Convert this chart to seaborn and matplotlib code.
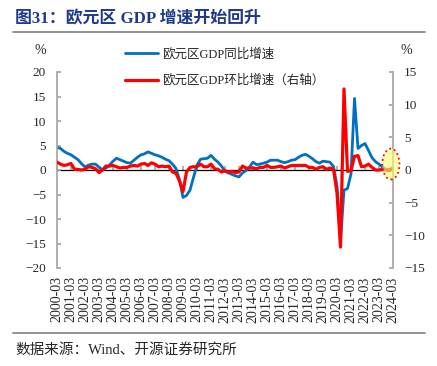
import pandas as pd
import matplotlib
matplotlib.use('Agg')
import matplotlib.pyplot as plt
import seaborn as sns
from matplotlib.lines import Line2D
from matplotlib.patches import Ellipse

# quarterly dates, 2000-03 .. 2024-03
quarters = [f'{y}-{m:02d}' for y in range(2000, 2025) for m in (3, 6, 9, 12)][:97]

# Euro area GDP YoY (%), left axis
yoy = [4.6, 4.4, 3.8, 3.4, 3.1, 2.6, 2.1, 1.3, 0.6, 1.0, 1.2, 1.2, 0.6, 0.0, 0.4, 1.0,
       1.8, 2.4, 2.1, 1.8, 1.5, 1.4, 2.0, 2.6, 3.1, 3.3, 3.7, 3.4, 3.1, 2.9, 2.6, 2.2,
       1.9, 1.2, 0.3, -2.0, -5.6, -5.2, -4.1, -1.5, 1.0, 2.2, 2.3, 2.4, 3.0, 2.2, 1.6, 0.8,
       -0.3, -0.6, -0.9, -1.2, -1.4, -0.6, -0.1, 0.6, 1.6, 1.1, 1.2, 1.4, 1.6, 2.0, 2.0, 2.0,
       1.7, 1.5, 1.7, 2.0, 2.1, 2.6, 3.0, 3.2, 2.8, 2.3, 1.7, 1.4, 1.8, 1.7, 1.6, 0.7,
       -3.3, -14.5, -4.1, -3.8, -0.8, 14.6, 4.4, 5.0, 5.4, 4.0, 2.5, 1.7, 1.2, 0.6, 0.1, 0.1,
       0.4]

# Euro area GDP QoQ (%), right axis
qoq = [1.2, 0.9, 0.7, 0.8, 1.0, 0.1, 0.1, 0.0, 0.1, 0.5, 0.4, 0.2, -0.4, 0.0, 0.6, 0.6,
       0.7, 0.5, 0.3, 0.4, 0.4, 0.6, 0.7, 0.6, 0.9, 1.0, 0.7, 1.1, 0.9, 0.5, 0.6, 0.5,
       0.6, -0.3, -0.5, -1.7, -3.3, -0.3, 0.4, 0.5, 0.5, 0.9, 0.5, 0.5, 0.9, 0.2, 0.1, -0.3,
       -0.1, -0.3, -0.2, -0.4, -0.3, 0.6, 0.3, 0.3, 0.3, 0.2, 0.4, 0.4, 0.7, 0.4, 0.4, 0.5,
       0.6, 0.3, 0.5, 0.7, 0.7, 0.7, 0.7, 0.7, 0.4, 0.4, 0.1, 0.4, 0.5, 0.1, 0.3, 0.1,
       -3.5, -11.8, 12.4, -0.2, -0.1, 2.1, 2.2, 0.5, 0.6, 0.9, 0.4, 0.0, 0.0, 0.1, 0.0, -0.1,
       0.3]

df = pd.DataFrame({'t': range(len(quarters)), 'yoy': yoy, 'qoq': qoq})

sns.set_theme(style='white')
plt.rcParams['font.family'] = ['Liberation Serif', 'Noto Sans CJK SC', 'DejaVu Sans']

W, H = 437, 366
fig = plt.figure(figsize=(W / 100, H / 100), dpi=100)
ax = fig.add_axes([57 / W, 1 - 268 / H, 336 / W, 196 / H])
ax2 = ax.twinx()

blue = '#0070C0'
red = '#FF0000'
sns.lineplot(data=df, x='t', y='yoy', ax=ax, color=blue, lw=2.0, legend=False)
sns.lineplot(data=df, x='t', y='qoq', ax=ax2, color=red, lw=2.3, legend=False)

grey = '#A6A6A6'
ax.set_ylim(-20, 20)
ax2.set_ylim(-15, 15)
ax.set_xlim(0, 96)
ax.set_yticks(range(-20, 21, 5))
ax2.set_yticks(range(-15, 16, 5))
ax.set_xlabel('')
ax.set_ylabel('')
ax2.set_ylabel('')

ticks = list(range(0, 97, 4))
ax.set_xticks(ticks)
ax.set_xticklabels([quarters[i] for i in ticks], rotation=90, fontsize=10)
ax.tick_params(axis='x', length=0, pad=6)
ax.tick_params(axis='y', direction='in', length=3, color=grey, labelsize=9.5, pad=8)
ax2.tick_params(axis='y', direction='in', length=3, color=grey, labelsize=9.5, pad=8)

for s in ['top', 'bottom', 'right']:
    ax.spines[s].set_visible(False)
for s in ['top', 'bottom', 'left']:
    ax2.spines[s].set_visible(False)
ax.spines['left'].set_color(grey)
ax2.spines['right'].set_color(grey)

# zero line acting as category axis with small year ticks
sec = ax.secondary_xaxis(0.5)
sec.set_xticks(ticks)
sec.tick_params(axis='x', direction='out', length=3, color=grey,
                labeltop=False, labelbottom=False)
for s in sec.spines.values():
    s.set_color('black')
    s.set_linewidth(0.9)

# highlight of the latest readings
ell = Ellipse((95.4, 1.2), 4.9, 6.3, transform=ax.transData,
              facecolor=(1, 1, 0.45, 0.6), edgecolor=red, linestyle=':', lw=1.3,
              zorder=10, clip_on=False)
ax2.add_patch(ell)

# legend
handles = [Line2D([], [], color=blue, lw=2.0), Line2D([], [], color=red, lw=2.3)]
fig.legend(handles, ['欧元区GDP同比增速', '欧元区GDP环比增速（右轴）'],
           loc='upper left', bbox_to_anchor=(120 / W, 1 - 43 / H), frameon=False,
           fontsize=9, handlelength=2.6, handletextpad=0.4, labelspacing=1.1,
           borderaxespad=0)

fig.text(40 / W, 1 - 51 / H, '%', fontsize=10, ha='center', va='center')
fig.text(406 / W, 1 - 51 / H, '%', fontsize=10, ha='center', va='center')

# title, rules and source
fig.text(15 / W, 1 - 19 / H, '图31：欧元区 GDP 增速开始回升', fontsize=12.2,
         fontweight='bold', color='#1F3A8A', va='center')
fig.add_artist(Line2D([13 / W, 425 / W], [1 - 32 / H] * 2, color='#7F7F7F', lw=1.2))
fig.add_artist(Line2D([13 / W, 425 / W], [1 - 333 / H] * 2, color='#7F7F7F', lw=1.2))
fig.text(15 / W, 1 - 350 / H, '数据来源：Wind、开源证券研究所', fontsize=10.5, va='center')

fig.savefig('out.png', dpi=100)
